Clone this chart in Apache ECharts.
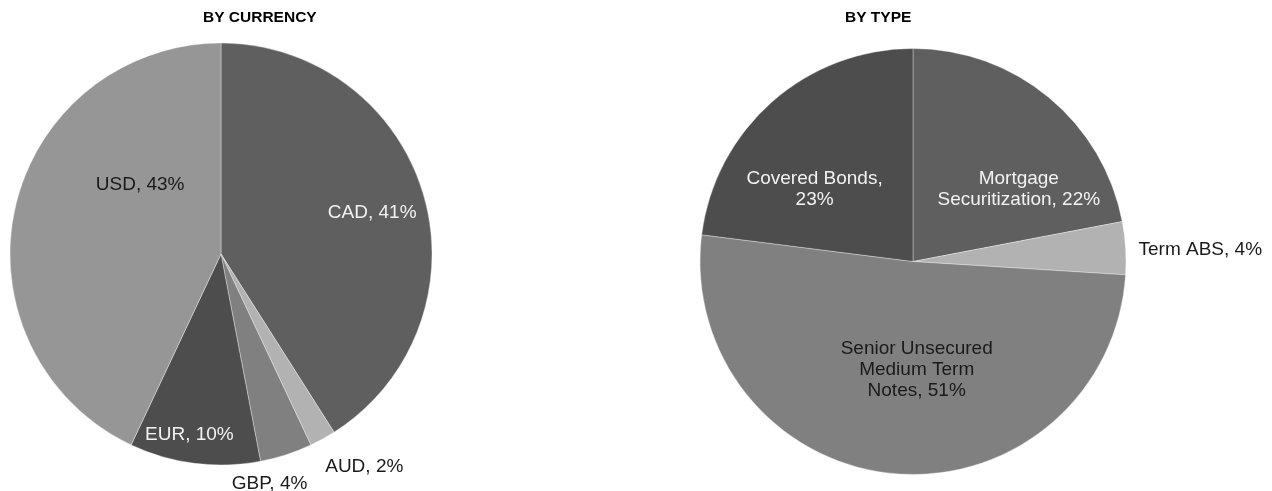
<!DOCTYPE html>
<html>
<head>
<meta charset="utf-8">
<script src="https://cdn.jsdelivr.net/npm/echarts@6/dist/echarts.min.js"></script>
<style>
html,body{margin:0;padding:0;background:#fff;}
#chart{width:1272px;height:491px;}
</style>
</head>
<body>
<div id="chart"></div>
<script>
// Data
const currencyNames = ['CAD', 'AUD', 'GBP', 'EUR', 'USD'];
const currencyValues = [41, 2, 4, 10, 43];
const typeNames = ['Mortgage Securitization', 'Term ABS', 'Senior Unsecured Medium Term Notes', 'Covered Bonds'];
const typeLabels = ['Mortgage\nSecuritization, 22%', 'Term ABS, 4%', 'Senior Unsecured\nMedium Term\nNotes, 51%', 'Covered Bonds,\n23%'];
const typeValues = [22, 4, 51, 23];
const titles = ['BY CURRENCY', 'BY TYPE'];

// Styles
const currencyColors = ['#5f5f5f', '#b2b2b2', '#808080', '#4d4d4d', '#969696'];
const currencyText = ['#f2f2f2', '#1a1a1a', '#1a1a1a', '#f2f2f2', '#1a1a1a'];
const currencyShift = [[47, -11], [91, 118], [15, 127], [-18, 73], [25, -46]];
const typeColors = ['#5f5f5f', '#b2b2b2', '#808080', '#4d4d4d'];
const typeText = ['#f2f2f2', '#1a1a1a', '#1a1a1a', '#f2f2f2'];
const typeShift = [[36, 12], [178, -5], [14, -1], [-26, 10]];

const chart = echarts.init(document.getElementById('chart'), null, {renderer: 'canvas'});
const font = '"Liberation Sans", Arial, sans-serif';

function mkData(names, values, colors, texts, labels) {
  return names.map((n, i) => ({
    name: n,
    value: values[i],
    itemStyle: {color: colors[i]},
    label: {
      color: texts[i],
      formatter: labels ? labels[i] : (n + ', ' + values[i] + '%')
    }
  }));
}

const option = {
  animation: false,
  backgroundColor: '#ffffff',
  title: [
    {text: titles[0], left: 203, top: 10, padding: 0,
     textStyle: {fontFamily: font, fontSize: 15.5, fontWeight: 'bold', color: '#000'}},
    {text: titles[1], left: 845, top: 10, padding: 0,
     textStyle: {fontFamily: font, fontSize: 15.5, fontWeight: 'bold', color: '#000'}}
  ],
  series: [
    {
      type: 'pie',
      center: [221, 254],
      radius: [0, 211],
      startAngle: 90,
      clockwise: true,
      silent: true,
      itemStyle: {borderColor: 'rgba(255,255,255,0.35)', borderWidth: 1},
      label: {show: true, position: 'inside', fontFamily: font, fontSize: 19, lineHeight: 21, align: 'center'},
      labelLine: {show: false},
      labelLayout: function (p) {
        const s = currencyShift[p.dataIndex];
        return {dx: s[0], dy: s[1]};
      },
      data: mkData(currencyNames, currencyValues, currencyColors, currencyText, null)
    },
    {
      type: 'pie',
      center: [913, 261.5],
      radius: [0, 213],
      startAngle: 90,
      clockwise: true,
      silent: true,
      itemStyle: {borderColor: 'rgba(255,255,255,0.35)', borderWidth: 1},
      label: {show: true, position: 'inside', fontFamily: font, fontSize: 19, lineHeight: 21, align: 'center'},
      labelLine: {show: false},
      labelLayout: function (p) {
        const s = typeShift[p.dataIndex];
        return {dx: s[0], dy: s[1]};
      },
      data: mkData(typeNames, typeValues, typeColors, typeText, typeLabels)
    }
  ]
};
chart.setOption(option);
</script>
</body>
</html>
